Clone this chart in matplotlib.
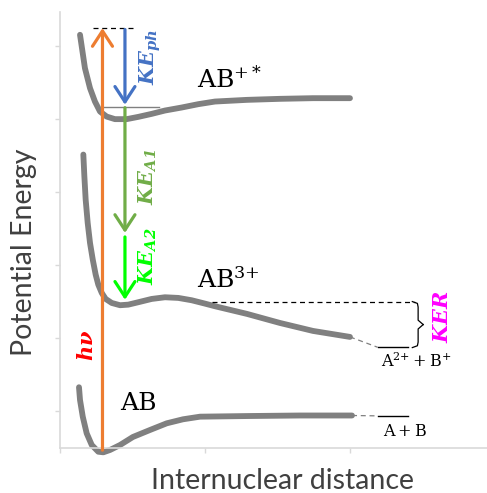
import matplotlib.pyplot as plt

plt.rcParams['mathtext.fontset'] = 'dejavuserif'

# potential curves (x: internuclear distance, y: energy, arb. units)
ab_x = [0.131, 0.138, 0.157, 0.184, 0.219, 0.264, 0.299, 0.345, 0.414, 0.503, 0.621, 0.736,
        0.848, 0.966, 1.31, 1.655, 2.014]
ab_y = [0.832, 0.658, 0.429, 0.201, 0.041, -0.051, -0.059, -0.027, 0.041, 0.151, 0.247, 0.338,
        0.393, 0.429, 0.438, 0.445, 0.445]

abp_x = [0.138, 0.172, 0.207, 0.241, 0.276, 0.322, 0.379, 0.46, 0.54, 0.632, 0.724, 0.839,
         0.954, 1.069, 1.29, 1.517, 1.745, 2.0]
abp_y = [5.658, 5.201, 4.927, 4.744, 4.607, 4.538, 4.503, 4.503, 4.534, 4.575, 4.621, 4.662,
         4.708, 4.744, 4.767, 4.781, 4.79, 4.79]

ab3_x = [0.161, 0.168, 0.177, 0.191, 0.207, 0.226, 0.246, 0.264, 0.288, 0.315, 0.357, 0.414,
         0.471, 0.54, 0.632, 0.724, 0.816, 0.908, 1.0, 1.069, 1.29, 1.517, 1.745, 2.0]
ab3_y = [4.018, 3.722, 3.401, 3.082, 2.808, 2.579, 2.374, 2.237, 2.123, 2.041, 1.986, 1.955,
         1.963, 1.996, 2.041, 2.064, 2.055, 2.023, 1.977, 1.941, 1.836, 1.712, 1.603, 1.521]

# dissociation limits
lim_x = [2.19, 2.40]
lim_ab = 0.44      # A + B
lim_ab3 = 1.38     # A2+ + B+
barrier = 2.0      # top of AB3+ barrier
ion_level = 4.67   # bottom of AB+* well reached by KE_ph

# vertical transitions
hv_x = 0.293
hv_y = [-0.03, 5.75]
ke_x = 0.448
ke_ph = [5.73, 4.70]
ke_a1 = [4.66, 2.945]
ke_a2 = [2.89, 2.03]

fig = plt.figure(figsize=(4.87, 4.93), dpi=100)
ax = fig.add_axes([60 / 487, 45 / 493, 427 / 487, 436 / 493])
ax.set_xlim(0, 2.945)
ax.set_ylim(0, 5.97)

gray = '#808080'
for xs, ys in [(ab_x, ab_y), (abp_x, abp_y), (ab3_x, ab3_y)]:
    ax.plot(xs, ys, color=gray, lw=4.2, solid_capstyle='round', solid_joinstyle='round',
            clip_on=False, zorder=2)

# continuation to the asymptotes
ax.plot([ab_x[-1], lim_x[0]], [ab_y[-1], lim_ab], color=gray, lw=0.9, ls=(0, (4, 3)))
ax.plot([ab3_x[-1], lim_x[0]], [ab3_y[-1], lim_ab3], color=gray, lw=0.9, ls=(0, (4, 3)))
ax.plot(lim_x, [lim_ab, lim_ab], color='black', lw=1.0)
ax.plot(lim_x, [lim_ab3, lim_ab3], color='black', lw=1.0)

# barrier level and KER brace
ax.plot([1.05, 2.45], [barrier, barrier], color='black', lw=0.9, ls=(0, (4, 3)))
bx = 2.47
ym = (barrier + lim_ab3) / 2
ax.plot([bx - 0.04, bx - 0.005, bx, bx, bx + 0.035],
        [barrier + 0.005, barrier - 0.02, barrier - 0.07, ym + 0.06, ym],
        color='black', lw=0.9, solid_joinstyle='round')
ax.plot([bx - 0.04, bx - 0.005, bx, bx, bx + 0.035],
        [lim_ab3 - 0.005, lim_ab3 + 0.02, lim_ab3 + 0.07, ym - 0.06, ym],
        color='black', lw=0.9, solid_joinstyle='round')

# top of photon arrow and final level of KE_ph
ax.plot([0.228, 0.517], [hv_y[1], hv_y[1]], color='black', lw=0.9, ls=(0, (4, 3)))
ax.plot([hv_x, 0.68], [ion_level, ion_level], color=gray, lw=1.0)


def arrow(x, y0, y1, color):
    ax.annotate('', xy=(x, y1), xytext=(x, y0), annotation_clip=False,
                arrowprops=dict(arrowstyle='->,head_length=0.55,head_width=0.36', color=color,
                                lw=2.3, shrinkA=0, shrinkB=0, mutation_scale=20), zorder=4)


arrow(hv_x, hv_y[0], hv_y[1], '#ED7D31')
arrow(ke_x, ke_ph[0], ke_ph[1], '#4472C4')
arrow(ke_x, ke_a1[0], ke_a1[1], '#70AD47')
arrow(ke_x, ke_a2[0], ke_a2[1], '#00FF00')

# labels
ax.text(0.945, 4.93, r'AB$^{{+}*}$', family='DejaVu Serif', fontsize=18)
ax.text(0.945, 2.19, r'AB$^{3{+}}$', family='DejaVu Serif', fontsize=18)
ax.text(0.414, 0.52, 'AB', family='DejaVu Serif', fontsize=18)
ax.text(2.455, 1.19, r'$\mathrm{A}^{2{+}}+\mathrm{B}^{{+}}$', fontsize=11.5, ha='center', va='center')
ax.text(2.38, 0.23, r'$\mathrm{A}+\mathrm{B}$', fontsize=11.5, ha='center', va='center')

vt = dict(rotation=90, ha='center', va='center', fontsize=15)
ax.text(0.62, 5.36, r'$\mathbfit{KE_{ph}}$', color='#4472C4', **vt)
ax.text(0.607, 3.71, r'$\mathbfit{KE_{A1}}$', color='#70AD47', **vt)
ax.text(0.607, 2.62, r'$\mathbfit{KE_{A2}}$', color='#00FF00', **vt)
ax.text(0.186, 1.41, r'$\mathbfit{h\nu}$', color='#FF0000', **vt)
ax.text(2.634, 1.80, r'$\mathbfit{KER}$', color='#FF00FF', **vt)

# axes
for s in ['top', 'right']:
    ax.spines[s].set_visible(False)
for s in ['left', 'bottom']:
    ax.spines[s].set_color('#D9D9D9')
    ax.spines[s].set_linewidth(1.2)
ax.set_xticks([0, 1, 2])
ax.set_yticks([0.5, 1.5, 2.5, 3.5, 4.5, 5.5])
ax.tick_params(length=3.6, width=1, color='#D9D9D9', labelbottom=False, labelleft=False)

ax.text(-0.0843, 0.4495, 'Potential Energy', transform=ax.transAxes, rotation=90,
        ha='center', va='center', family='Lato', fontsize=20.5, color='#404040')
ax.text(0.52, -0.075, 'Internuclear distance', transform=ax.transAxes,
        ha='center', va='center', family='Lato', fontsize=20.5, color='#404040')

fig.savefig('out.png', dpi=100)
